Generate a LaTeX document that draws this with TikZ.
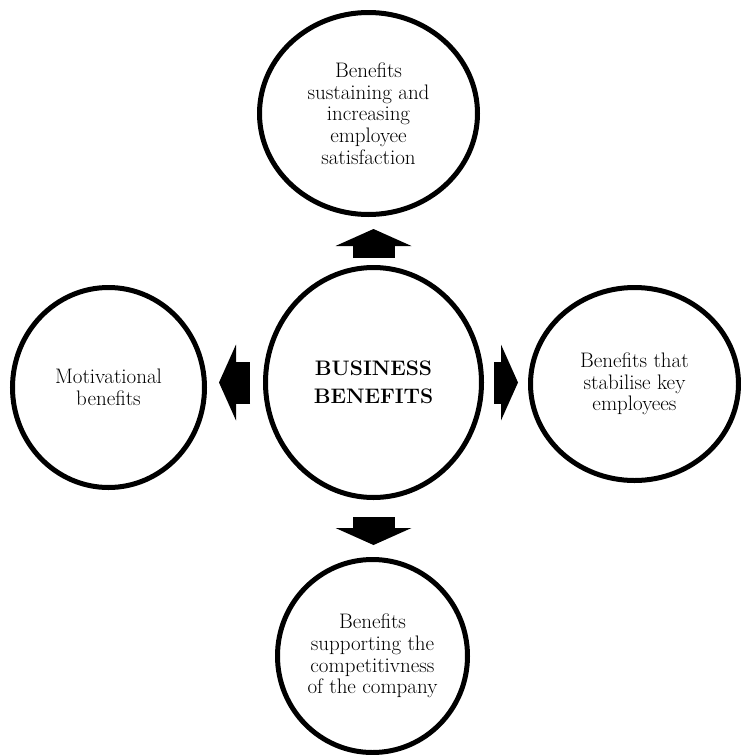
\documentclass[tikz,border=0pt]{standalone}
\usetikzlibrary{shapes.geometric,arrows.meta}
\begin{document}
\begin{tikzpicture}[x=1pt,y=-1pt,
  ring/.style={ellipse,draw,line width=5pt,align=center,inner sep=0pt,
    font=\fontsize{21}{21.7}\selectfont},
  bigarrow/.style={line width=42pt,
    -{Triangle[width=76pt,length=17pt,line width=0pt]}}]
\useasboundingbox (0,0) rectangle (740,755);
\node[ring,minimum width=216pt,minimum height=230pt,
  font=\bfseries\fontsize{21}{28}\selectfont] (biz) at (373.5,382.5)
  {BUSINESS\\BENEFITS};
\node[ring,minimum width=218pt,minimum height=202pt] (satisf) at (368.5,113.5)
  {Benefits\\sustaining and\\increasing\\employee\\satisfaction};
\node[ring,minimum width=192pt,minimum height=200pt] (motiv) at (108.5,387.5)
  {Motivational\\benefits};
\node[ring,minimum width=208pt,minimum height=193pt] (stab) at (634.5,384)
  {Benefits that\\stabilise key\\employees};
\node[ring,minimum width=190pt,minimum height=193pt] (compet) at (372.5,656)
  {Benefits\\supporting the\\competitivness\\of the company};
\draw[bigarrow,shorten <=7pt,shorten >=12pt] (biz.north) -- (biz.north |- satisf.south);
\draw[bigarrow,shorten <=13pt,shorten >=12pt] (biz.west) -- (biz.west -| motiv.east);
\draw[bigarrow,shorten <=10pt,shorten >=10pt] (biz.east) -- (biz.east -| stab.west);
\draw[bigarrow,shorten <=17pt,shorten >=12pt] (biz.south) -- (biz.south |- compet.north);
\end{tikzpicture}
\end{document}
